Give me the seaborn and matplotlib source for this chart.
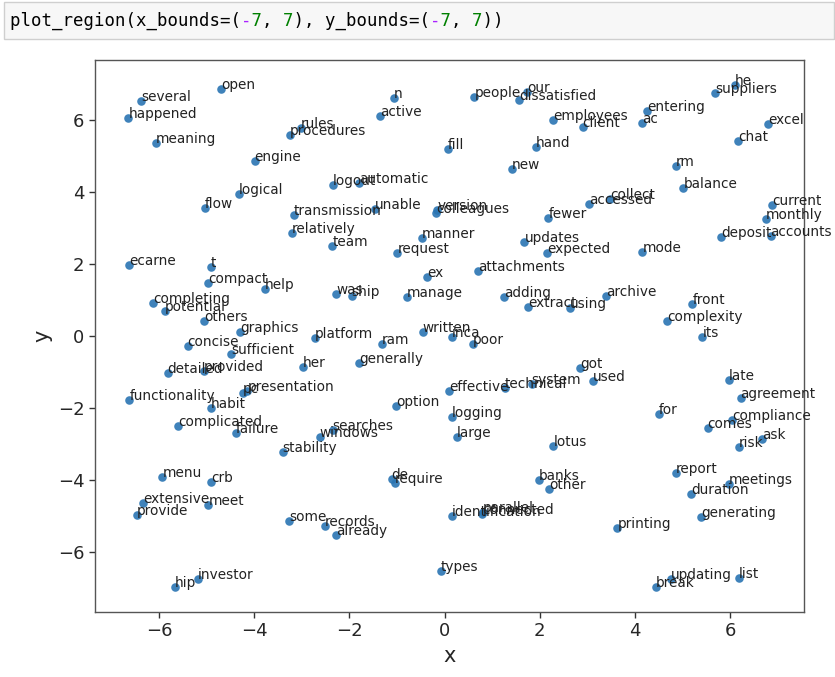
import matplotlib
matplotlib.use("Agg")
import matplotlib.pyplot as plt
import seaborn as sns
import pandas as pd

words = ["several", "happened", "open", "meaning", "rules", "procedures", "engine", "logical",
         "flow", "logout", "automatic", "transmission", "relatively", "team", "n", "active",
         "people", "our", "dissatisfied", "employees", "client", "fill", "hand", "new",
         "unable", "version", "colleagues", "fewer", "manner", "updates", "he", "suppliers",
         "entering", "ac", "excel", "chat", "rm", "balance", "accessed", "collect",
         "current", "monthly", "deposit", "accounts", "ecarne", "t", "compact", "help",
         "completing", "potential", "others", "graphics", "platform", "concise", "sufficient", "her",
         "detailed", "provided", "functionality", "habit", "pc", "presentation", "complicated", "request",
         "attachments", "ex", "was", "ship", "manage", "adding", "extract", "using",
         "written", "inca", "poor", "ram", "generally", "effective", "technical", "system",
         "option", "logging", "got", "expected", "mode", "archive", "front", "complexity",
         "its", "used", "late", "agreement", "for", "compliance", "comes", "risk",
         "ask", "report", "meetings", "duration", "generating", "printing", "updating", "break",
         "list", "failure", "windows", "searches", "stability", "menu", "crb", "extensive",
         "meet", "provide", "some", "records", "already", "investor", "hip", "large",
         "lotus", "de", "require", "banks", "other", "identification", "parallel", "connected",
         "types"]

x_vals = [-6.38, -6.64, -4.70, -6.06, -3.02, -3.25, -3.99, -4.32,
          -5.03, -2.35, -1.79, -3.16, -3.21, -2.36, -1.06, -1.36,
          0.63, 1.73, 1.57, 2.29, 2.90, 0.07, 1.92, 1.41,
          -1.47, -0.15, -0.18, 2.18, -0.48, 1.68, 6.10, 5.68,
          4.25, 4.16, 6.80, 6.17, 4.86, 5.02, 3.04, 3.48,
          6.89, 6.75, 5.82, 6.85, -6.62, -4.91, -4.97, -3.77,
          -6.12, -5.87, -5.05, -4.30, -2.72, -5.40, -4.49, -2.97,
          -5.82, -5.05, -6.62, -4.91, -4.23, -4.14, -5.59, -0.99,
          0.71, -0.37, -2.28, -1.95, -0.79, 1.25, 1.76, 2.64,
          -0.46, 0.16, 0.59, -1.32, -1.79, 0.10, 1.27, 1.83,
          -1.02, 0.16, 2.85, 2.16, 4.16, 3.39, 5.21, 4.67,
          5.42, 3.11, 5.98, 6.22, 4.51, 6.05, 5.53, 6.19,
          6.68, 4.86, 5.98, 5.18, 5.39, 3.63, 4.76, 4.44,
          6.19, -4.38, -2.62, -2.35, -3.40, -5.93, -4.91, -6.33,
          -4.96, -6.47, -3.26, -2.51, -2.28, -5.18, -5.66, 0.26,
          2.29, -1.11, -1.04, 1.99, 2.20, 0.16, 0.80, 0.79,
          -0.08]

y_vals = [6.55, 6.08, 6.86, 5.37, 5.79, 5.59, 4.87, 3.96,
          3.57, 4.20, 4.25, 3.36, 2.86, 2.51, 6.61, 6.12,
          6.66, 6.78, 6.56, 6.01, 5.82, 5.19, 5.27, 4.66,
          3.53, 3.50, 3.41, 3.29, 2.73, 2.62, 6.98, 6.75,
          6.26, 5.93, 5.90, 5.43, 4.74, 4.13, 3.67, 3.81,
          3.64, 3.25, 2.76, 2.79, 1.97, 1.93, 1.48, 1.31,
          0.91, 0.70, 0.42, 0.12, -0.06, -0.27, -0.51, -0.87,
          -1.04, -0.97, -1.78, -1.99, -1.59, -1.53, -2.49, 2.30,
          1.81, 1.65, 1.16, 1.12, 1.09, 1.09, 0.82, 0.78,
          0.12, -0.02, -0.23, -0.23, -0.76, -1.53, -1.44, -1.34,
          -1.94, -2.24, -0.90, 2.30, 2.33, 1.12, 0.88, 0.42,
          -0.04, -1.24, -1.22, -1.72, -2.18, -2.34, -2.57, -3.10,
          -2.87, -3.80, -4.12, -4.40, -5.04, -5.33, -6.77, -6.99,
          -6.74, -2.71, -2.82, -2.61, -3.24, -3.91, -4.05, -4.65,
          -4.70, -4.98, -5.16, -5.29, -5.54, -6.77, -6.99, -2.82,
          -3.06, -3.98, -4.10, -4.01, -4.26, -5.01, -4.90, -4.95,
          -6.53]

tick_values = [-6, -4, -2, 0, 2, 4, 6]
code_line = "plot_region(x_bounds=(-7, 7), y_bounds=(-7, 7))"

df = pd.DataFrame({"x": x_vals, "y": y_vals, "word": words})

sns.set_style("ticks")
plt.rcParams["font.family"] = ["DejaVu Sans"]

fig = plt.figure(figsize=(8.35, 6.77), dpi=100)
ax = fig.add_axes([94.7 / 835, 1 - 611.7 / 677, (804.3 - 94.7) / 835, (611.7 - 60) / 677])

sns.scatterplot(data=df, x="x", y="y", ax=ax, color="#2a75b3", s=38, linewidth=0, alpha=0.9)
for w, xv, yv in zip(df["word"], df["x"], df["y"]):
    ax.annotate(w, (xv, yv), fontsize=9.8, color="#222222", ha="left", va="baseline")

ax.set_xlim(-7.35, 7.56)
ax.set_ylim(-7.67, 7.68)
ax.set_xticks(tick_values)
ax.set_yticks(tick_values)
ax.tick_params(axis="both", labelsize=13, length=4, width=1, color="#333333")
ax.set_xlabel("x", fontsize=15)
ax.set_ylabel("y", fontsize=15)
for sp in ax.spines.values():
    sp.set_visible(True)
    sp.set_color("#555555")
    sp.set_linewidth(1.0)

# notebook code cell above the chart
from matplotlib.patches import Rectangle
fig.patches.append(Rectangle((4 / 835, 1 - 39 / 677), 830 / 835, 37 / 677,
                             transform=fig.transFigure, facecolor="#f7f7f7",
                             edgecolor="#cfcfcf", linewidth=1))
black = "".join(c if c not in "-7" else " " for c in code_line)
purple = "".join(c if c == "-" else " " for c in code_line)
green = "".join(c if c == "7" else " " for c in code_line)
for s, col in [(black, "#000000"), (purple, "#AA22FF"), (green, "#008000")]:
    fig.text(10 / 835, 1 - 21 / 677, s, family="DejaVu Sans Mono", fontsize=12.5,
             color=col, va="center", ha="left")

fig.savefig("out.png", dpi=100)
